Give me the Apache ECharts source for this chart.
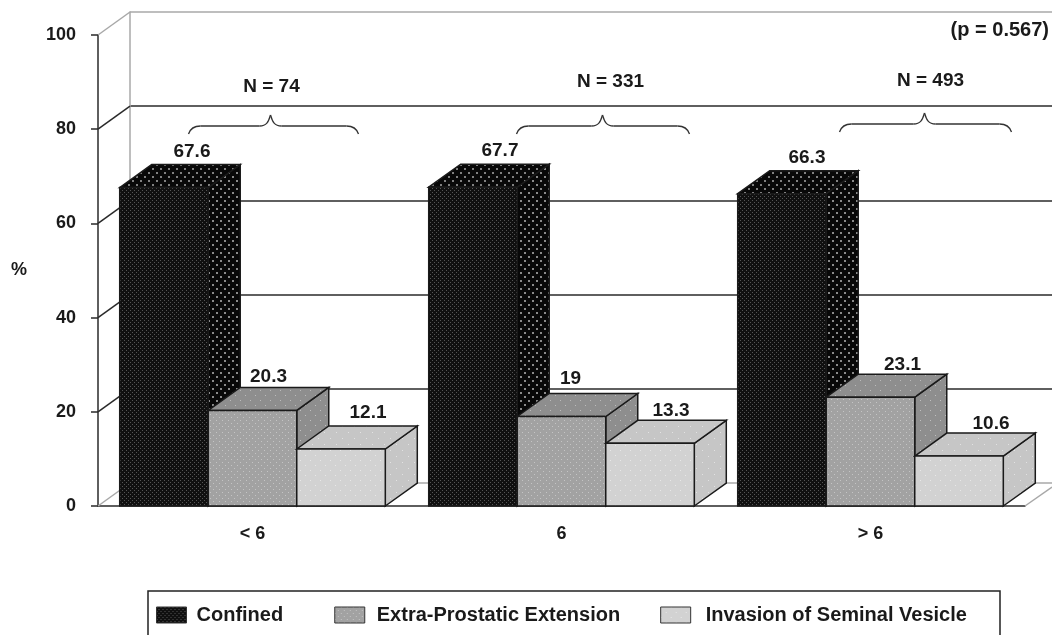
<!DOCTYPE html>
<html lang="en">
<head>
    <meta charset="UTF-8">
    <title>Pathologic stage by Gleason score</title>
    <script src="https://cdn.jsdelivr.net/npm/echarts@6/dist/echarts.min.js"></script>
    <style>
        html, body { margin: 0; padding: 0; background: #fff; }
        #main { width: 1052px; height: 635px; }
    </style>
</head>
<body>
<div id="main"></div>
<script>
    const categories = ['< 6', '6', '> 6'];
    const seriesNames = ['Confined', 'Extra-Prostatic Extension', 'Invasion of Seminal Vesicle'];
    const confined = [67.6, 67.7, 66.3];
    const extraProstatic = [20.3, 19, 23.1];
    const seminalVesicle = [12.1, 13.3, 10.6];
    const valueLabels = [['67.6', '67.7', '66.3'], ['20.3', '19', '23.1'], ['12.1', '13.3', '10.6']];
    const groupLabels = ['N = 74', 'N = 331', 'N = 493'];
    const yTicks = [0, 20, 40, 60, 80, 100];

    // label nudges, the original labels were placed by hand
    const labelNudgeX = [[12, 11, 9], [0, -7, 16], [11, 5, 16]];
    const labelNudgeY = [[-13, -13, -13], [-11, -15, -9], [-13, -10, -9]];

    const depthX = 32, depthY = 23;
    const font = '"Liberation Sans", Arial, sans-serif';
    const dark = '#2a2a2a';
    const pale = '#a8a8a8';

    // small dotted tiles for the bar faces
    function dots(bg, dot, cell, size) {
        const c = document.createElement('canvas');
        c.width = cell * 2;
        c.height = cell * 2;
        const g = c.getContext('2d');
        g.fillStyle = bg;
        g.fillRect(0, 0, c.width, c.height);
        g.fillStyle = dot;
        g.fillRect(0, 0, size, size);
        g.fillRect(cell, cell, size, size);
        return { image: c, repeat: 'repeat' };
    }

    const faces = [
        { front: dots('#101010', '#555555', 2, 1), top: dots('#080808', '#808080', 4, 2), side: dots('#080808', '#8a8a8a', 4, 2) },
        { front: dots('#a2a2a2', '#c4c4c4', 3, 1), top: dots('#8e8e8e', '#bcbcbc', 5, 1), side: dots('#8e8e8e', '#c0c0c0', 5, 1) },
        { front: dots('#d2d2d2', '#e8e8e8', 5, 1), top: dots('#c6c6c6', '#e2e2e2', 6, 1), side: dots('#c6c6c6', '#e2e2e2', 6, 1) }
    ];

    function renderBar(params, api) {
        const s = params.seriesIndex;
        const cat = api.value(0);
        const base = api.coord([cat, 0]);
        const top = api.coord([cat, api.value(1)]);
        const w = api.size([1, 0])[0] * 0.2865;
        const x0 = base[0] + (s - 1.5) * w;
        const x1 = x0 + w;
        const y0 = base[1];
        const y1 = top[1];
        const line = { stroke: '#1a1a1a', lineWidth: 1.5 };
        const f = faces[s];
        return {
            type: 'group',
            children: [
                { type: 'polygon', shape: { points: [[x1, y0], [x1 + depthX, y0 - depthY], [x1 + depthX, y1 - depthY], [x1, y1]] }, style: Object.assign({ fill: f.side }, line) },
                { type: 'polygon', shape: { points: [[x0, y1], [x0 + depthX, y1 - depthY], [x1 + depthX, y1 - depthY], [x1, y1]] }, style: Object.assign({ fill: f.top }, line) },
                { type: 'rect', shape: { x: x0, y: y1, width: w, height: y0 - y1 }, style: Object.assign({ fill: f.front }, line) },
                {
                    type: 'text',
                    style: {
                        text: valueLabels[s][cat],
                        x: x0 + w / 2 + depthX / 2 + labelNudgeX[s][cat],
                        y: y1 - depthY + labelNudgeY[s][cat],
                        align: 'center',
                        verticalAlign: 'middle',
                        fill: '#1a1a1a',
                        font: 'bold 19px ' + font
                    }
                }
            ]
        };
    }

    // side wall and floor diagonals, from the front axis back to the rear grid
    function renderWall(params, api) {
        const p = api.coord([0, api.value(0)]);
        const band = api.size([1, 0])[0];
        const x = p[0] - band / 2;
        const v = api.value(0);
        const stroke = v === 0 || v === 100 ? pale : dark;
        const children = [{
            type: 'line',
            shape: { x1: x, y1: p[1], x2: x + depthX, y2: p[1] - depthY },
            style: { stroke: stroke, lineWidth: 1.5 }
        }];
        if (v === 0) {
            const r = x + band * categories.length;
            children.push({
                type: 'line',
                shape: { x1: r, y1: p[1], x2: r + 27, y2: p[1] - 19 },
                style: { stroke: pale, lineWidth: 1.5 }
            });
        }
        return { type: 'group', children: children };
    }

    function renderBrace(params, api) {
        const cat = api.value(0);
        const p = api.coord([cat, 80]);
        const bx = [[-64, 18, 106], [-45, 41, 128], [-31, 54, 141]][cat];
        const by = [126, 126, 124][cat];
        const l = p[0] + bx[0], m = p[0] + bx[1], r = p[0] + bx[2];
        const st = { stroke: '#333', lineWidth: 1.3, fill: 'none' };
        const curve = (x1, y1, cx1, cy1, cx2, cy2, x2, y2) => ({
            type: 'bezierCurve',
            shape: { x1: x1, y1: y1, cpx1: cx1, cpy1: cy1, cpx2: cx2, cpy2: cy2, x2: x2, y2: y2 },
            style: st
        });
        return {
            type: 'group',
            children: [
                curve(l, by + 8, l + 2, by + 2, l + 6, by, l + 12, by),
                { type: 'line', shape: { x1: l + 12, y1: by, x2: m - 11, y2: by }, style: st },
                curve(m - 11, by, m - 4, by, m - 2, by - 4, m, by - 11),
                curve(m, by - 11, m + 2, by - 4, m + 4, by, m + 11, by),
                { type: 'line', shape: { x1: m + 11, y1: by, x2: r - 12, y2: by }, style: st },
                curve(r - 12, by, r - 6, by, r - 2, by + 2, r, by + 8),
                {
                    type: 'text',
                    style: {
                        text: groupLabels[cat],
                        x: m + [1, 8, 6][cat],
                        y: [87, 82, 81][cat],
                        align: 'center',
                        verticalAlign: 'middle',
                        fill: '#1a1a1a',
                        font: 'bold 19px ' + font
                    }
                }
            ]
        };
    }

    function barSeries(i, values) {
        return {
            name: seriesNames[i],
            type: 'custom',
            xAxisIndex: 0,
            yAxisIndex: 0,
            clip: false,
            z: 5,
            renderItem: renderBar,
            itemStyle: { color: faces[i].front },
            encode: { x: 0, y: 1 },
            data: values.map((v, c) => [c, v])
        };
    }

    const chart = echarts.init(document.getElementById('main'));
    chart.setOption({
        animation: false,
        backgroundColor: '#fff',
        title: {
            text: '(p = 0.567)',
            right: 3,
            top: 20,
            padding: 0,
            textStyle: { fontFamily: font, fontSize: 20, fontWeight: 'bold', color: '#1a1a1a' }
        },
        legend: {
            data: seriesNames.map((n, i) => ({
                name: n,
                icon: 'rect',
                itemStyle: { color: faces[i].front, borderColor: '#333', borderWidth: 1 },
                textStyle: { padding: [[0, 0, 0, 5], [0, 0, 0, 7], [0, 0, 0, 10]][i] }
            })),
            // gaps in the original legend are uneven, pad the first entry
            formatter: n => n === seriesNames[0] ? n + '\u00a0\u00a0' : n,
            left: 151,
            top: 600,
            itemWidth: 30,
            itemHeight: 16,
            itemGap: 40,
            selectedMode: false,
            textStyle: { fontFamily: font, fontSize: 20, fontWeight: 'bold', color: '#1a1a1a' }
        },
        graphic: [{
            type: 'rect',
            silent: true,
            z: -1,
            shape: { x: 148, y: 591, width: 852, height: 60 },
            style: { fill: '#fff', stroke: '#222', lineWidth: 1.5 }
        }],
        grid: [
            { left: 98, right: 27, top: 35, bottom: 129 },
            { left: 130, right: 0, top: 12, bottom: 152 }
        ],
        xAxis: [
            {
                type: 'category',
                gridIndex: 0,
                data: categories,
                axisLine: { lineStyle: { color: dark, width: 1.5 } },
                axisTick: { length: 7, lineStyle: { color: dark, width: 1.5 }, alignWithLabel: false },
                axisLabel: { margin: 19, fontFamily: font, fontSize: 18, fontWeight: 'bold', color: '#1a1a1a' }
            },
            { type: 'category', gridIndex: 1, data: categories, show: false }
        ],
        yAxis: [
            {
                type: 'value',
                gridIndex: 0,
                min: 0,
                max: 100,
                interval: 20,
                name: '%',
                nameLocation: 'middle',
                nameRotate: 0,
                nameGap: 71,
                nameTextStyle: { fontFamily: font, fontSize: 18, fontWeight: 'bold', color: '#1a1a1a' },
                axisLine: { show: true, lineStyle: { color: dark, width: 1.5 } },
                axisTick: { show: true, length: 7, lineStyle: { color: dark, width: 1.5 } },
                axisLabel: { margin: 22, fontFamily: font, fontSize: 18, fontWeight: 'bold', color: '#1a1a1a' },
                splitLine: { show: false }
            },
            {
                type: 'value',
                gridIndex: 1,
                min: 0,
                max: 100,
                interval: 20,
                axisLine: { show: true, lineStyle: { color: pale, width: 1.5 } },
                axisTick: { show: false },
                axisLabel: { show: false },
                splitLine: { show: true, lineStyle: { color: [pale, dark, dark, dark, dark, pale], width: 1.5 } }
            }
        ],
        series: [
            barSeries(0, confined),
            barSeries(1, extraProstatic),
            barSeries(2, seminalVesicle),
            {
                type: 'custom',
                name: 'wall',
                xAxisIndex: 0,
                yAxisIndex: 0,
                clip: false,
                silent: true,
                z: 1,
                renderItem: renderWall,
                encode: { y: 0 },
                data: yTicks.map(v => [v])
            },
            {
                type: 'custom',
                name: 'braces',
                xAxisIndex: 0,
                yAxisIndex: 0,
                clip: false,
                silent: true,
                z: 6,
                renderItem: renderBrace,
                encode: { x: 0 },
                data: categories.map((c, i) => [i])
            }
        ]
    });
</script>
</body>
</html>
